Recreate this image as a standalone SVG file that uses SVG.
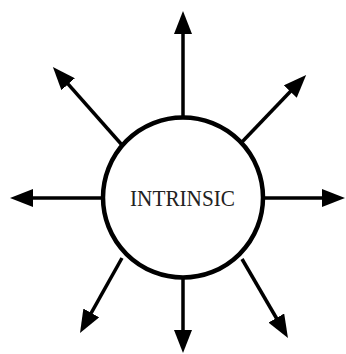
<svg xmlns="http://www.w3.org/2000/svg" width="346" height="354" viewBox="0 0 346 354">
<style>
.c{stroke:#000;stroke-width:3.5;fill:none;marker-end:url(#ah)}
.n{fill:#fff;stroke:#000;stroke-width:4.5}
.t{font-family:"Liberation Serif",serif;font-size:24px;fill:#222;text-anchor:middle}
</style>
<defs>
<marker id="ah" markerUnits="userSpaceOnUse" markerWidth="23" markerHeight="18" viewBox="0 0 23 18" refX="4" refY="9" orient="auto">
<path d="M0,0 L23,9 L0,18 Z" fill="#000"/>
</marker>
</defs>
<rect width="346" height="354" fill="#fff"/>
<g id="connectors">
<line class="c" x1="183" y1="117" x2="183" y2="30"/>
<line class="c" x1="183" y1="277" x2="183" y2="334"/>
<line class="c" x1="103" y1="198" x2="29" y2="198"/>
<line class="c" x1="263" y1="198" x2="326" y2="198"/>
<line class="c" x1="122" y1="145" x2="65.5" y2="81.2"/>
<line class="c" x1="242" y1="142" x2="293" y2="88.7"/>
<line class="c" x1="122" y1="258" x2="89.3" y2="316.4"/>
<line class="c" x1="242" y1="259" x2="278.4" y2="321.5"/>
</g>
<g id="intrinsic">
<circle class="n" cx="183" cy="197.5" r="80"/>
<text class="t" x="182.5" y="206" textLength="105" lengthAdjust="spacingAndGlyphs">INTRINSIC</text>
</g>
</svg>
